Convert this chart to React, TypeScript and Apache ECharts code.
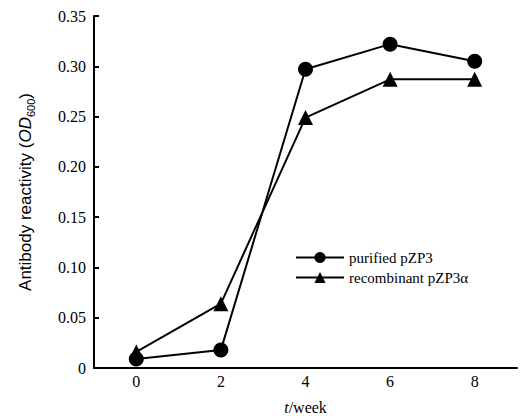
import React, { useEffect, useRef } from "react";
import * as echarts from "echarts";

const categories = ["0", "2", "4", "6", "8"];
const purified = [0.009, 0.018, 0.297, 0.322, 0.305];
const recombinant = [0.016, 0.064, 0.249, 0.287, 0.287];
const seriesNames = ["purified pZP3", "recombinant pZP3α"];
const yMin = 0;
const yMax = 0.35;
const yInterval = 0.05;

const SERIF = "'Liberation Serif', 'DejaVu Serif', serif";
const SANS = "'Liberation Sans', Arial, sans-serif";

export default function App() {
  const ref = useRef<HTMLDivElement>(null);
  useEffect(() => {
    if (!ref.current) return;
    const chart = echarts.init(ref.current, undefined, { renderer: "svg" });
    chart.setOption({
      animation: false,
      backgroundColor: "#ffffff",
      grid: { left: 94, right: 4, top: 16, bottom: 49, containLabel: false },
      legend: {
        orient: "vertical",
        left: 290,
        top: 245,
        itemWidth: 48,
        itemHeight: 14,
        itemGap: 5,
        textStyle: { fontFamily: SERIF, fontSize: 15, color: "#000" },
        data: seriesNames,
      },
      xAxis: {
        type: "category",
        data: categories,
        boundaryGap: true,
        axisLine: { lineStyle: { color: "#000", width: 2 } },
        axisTick: { inside: true, length: 5, lineStyle: { color: "#000", width: 2 } },
        axisLabel: { fontFamily: SERIF, fontSize: 16, color: "#000", margin: 5 },
        name: "{i|t}{n|/week}",
        nameLocation: "middle",
        nameGap: 31,
        nameTextStyle: {
          rich: {
            i: { fontFamily: SERIF, fontSize: 16, fontStyle: "italic", color: "#000" },
            n: { fontFamily: SERIF, fontSize: 16, color: "#000" },
          },
        },
      },
      yAxis: {
        type: "value",
        min: yMin,
        max: yMax,
        interval: yInterval,
        splitLine: { show: false },
        axisLine: { show: true, lineStyle: { color: "#000", width: 2 } },
        axisTick: { show: true, inside: true, length: 5, lineStyle: { color: "#000", width: 2 } },
        axisLabel: {
          fontFamily: SERIF,
          fontSize: 16,
          color: "#000",
          margin: 8,
          formatter: (v: number) => (v === 0 ? "0" : v.toFixed(2)),
        },
        name: "{a|Antibody reactivity (}{i|OD}{s|600}{a|)}",
        nameLocation: "middle",
        nameRotate: 90,
        nameGap: 58,
        nameTextStyle: {
          rich: {
            a: { fontFamily: SANS, fontSize: 17, color: "#000", lineHeight: 21, verticalAlign: "middle" },
            i: { fontFamily: SANS, fontSize: 17, fontStyle: "italic", color: "#000", lineHeight: 21, verticalAlign: "middle" },
            s: { fontFamily: SANS, fontSize: 11, color: "#000", lineHeight: 12, verticalAlign: "bottom" },
          },
        },
      },
      series: [
        {
          name: seriesNames[0],
          type: "line",
          data: purified,
          symbol: "circle",
          symbolSize: 15,
          itemStyle: { color: "#000" },
          lineStyle: { color: "#000", width: 2 },
        },
        {
          name: seriesNames[1],
          type: "line",
          data: recombinant,
          symbol: "triangle",
          symbolSize: 15,
          itemStyle: { color: "#000" },
          lineStyle: { color: "#000", width: 2 },
        },
      ],
    });
    return () => chart.dispose();
  }, []);
  return (
    <div
      ref={ref}
      style={{ position: "fixed", left: 0, top: 0, width: 521, height: 420, background: "#fff" }}
    />
  );
}
